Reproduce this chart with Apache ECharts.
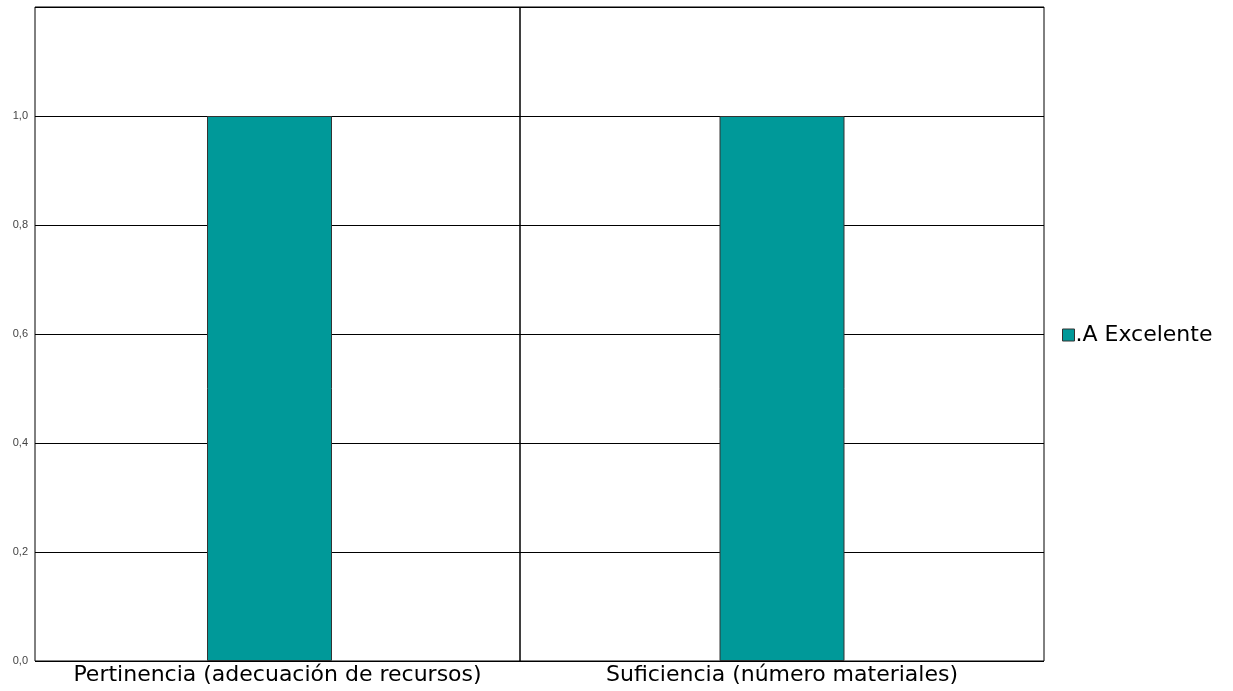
<!DOCTYPE html>
<html>
<head>
<meta charset="utf-8">
<script src="https://cdn.jsdelivr.net/npm/echarts@6/dist/echarts.min.js"></script>
<style>
html,body{margin:0;padding:0;background:#fff;}
#chart{width:1233px;height:691px;}
</style>
</head>
<body>
<div id="chart"></div>
<script>
const categories = ['Pertinencia (adecuación de recursos)', 'Suficiencia (número materiales)'];
const seriesName = '.A Excelente';
const values = [1.0, 1.0];
const yMin = 0, yMax = 1.2, yInterval = 0.2;

const chart = echarts.init(document.getElementById('chart'));
const font = '"Liberation Sans", Arial, sans-serif';
const wideFont = '"DejaVu Sans", Verdana, sans-serif';
const barColor = '#009999';

// panel grids (frame, gridlines, labels) and bar grids (bar placement)
const grids = [
  {left: 35, top: 7, width: 485, height: 654, show: true, borderColor: '#000', borderWidth: 1},
  {left: 520, top: 7, width: 524, height: 654, show: true, borderColor: '#000', borderWidth: 1},
  {left: 35, top: 7, width: 469, height: 654, show: false},
  {left: 520, top: 7, width: 524, height: 654, show: false}
];

const xAxes = [];
const yAxes = [];
categories.forEach((c, i) => {
  xAxes.push({
    type: 'category', gridIndex: i, data: [c],
    axisLine: {show: false}, axisTick: {show: false},
    axisLabel: {color: '#000', fontSize: 22, fontFamily: wideFont, margin: 3}
  });
  yAxes.push({
    type: 'value', gridIndex: i, min: yMin, max: yMax, interval: yInterval,
    axisLine: {show: false}, axisTick: {show: false},
    splitLine: {show: true, lineStyle: {color: '#000', width: 1}},
    axisLabel: {
      show: i === 0, color: '#444', fontSize: 11, fontFamily: font, margin: 7,
      formatter: v => (Math.abs(v - yMax) < 1e-9 ? '' : v.toFixed(1).replace('.', ','))
    }
  });
});
categories.forEach((c, i) => {
  xAxes.push({
    type: 'category', gridIndex: i + 2, data: [c],
    axisLine: {show: false}, axisTick: {show: false}, axisLabel: {show: false}
  });
  yAxes.push({
    type: 'value', gridIndex: i + 2, min: yMin, max: yMax, interval: yInterval,
    axisLine: {show: false}, axisTick: {show: false}, axisLabel: {show: false},
    splitLine: {show: false}
  });
});

const series = categories.map((c, i) => ({
  name: seriesName, type: 'bar', xAxisIndex: i + 2, yAxisIndex: i + 2,
  data: [values[i]], barWidth: 125, z: 5,
  itemStyle: {color: barColor, borderColor: '#333', borderWidth: 1}
}));

chart.setOption({
  animation: false,
  backgroundColor: '#fff',
  grid: grids,
  xAxis: xAxes,
  yAxis: yAxes,
  legend: {
    data: [seriesName], orient: 'vertical', left: 1057, top: 319,
    icon: 'rect', itemWidth: 12, itemHeight: 12,
    itemStyle: {color: barColor, borderColor: '#333', borderWidth: 1},
    textStyle: {color: '#000', fontSize: 22, fontFamily: wideFont, padding: [0, 0, 0, -4]}
  },
  series: series
});
</script>
</body>
</html>
